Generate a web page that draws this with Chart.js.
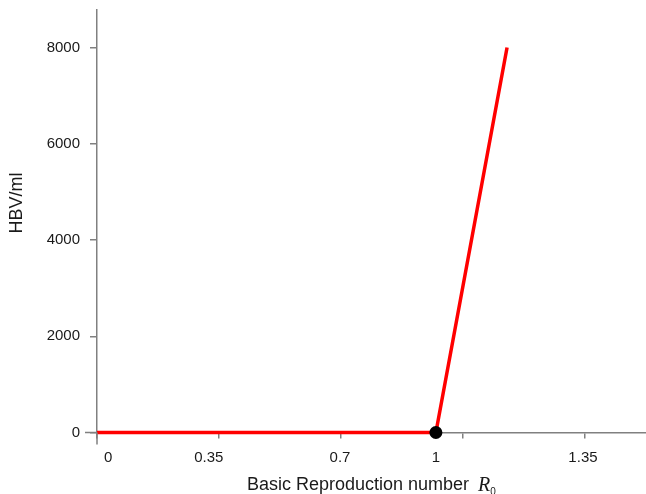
<!DOCTYPE html>
<html lang="en">

<head>
    <script src="https://cdn.jsdelivr.net/npm/chart.js"></script>
    <meta charset="UTF-8">
    <title>HBV vs R0</title>
    <style>
        body {
            margin: 0;
            padding: 0;
            background-color: #ffffff;
        }

        .chart-box {
            width: 646px;
            height: 494px;
        }
    </style>
</head>

<body>
    <div class="chart-box">
        <canvas id="hbvChart"></canvas>
    </div>

    <script>
        // data
        const r0Values = [0, 1, 1.21];
        const hbvValues = [0, 0, 8000];
        const thresholdPoint = [{ x: 1, y: 0 }];

        // tick labels as printed under the axis, and where they sit (in R0 units)
        const xTickLabels = ['0', '0.35', '0.7', '1', '1.35'];
        const xTickLabelAt = [0.033, 0.33, 0.717, 1.0, 1.434];
        const yTickValues = [0, 2000, 4000, 6000, 8000];

        const axisGray = '#808080';
        const textColor = '#1a1a1a';
        const sans = '"Liberation Sans", Arial, sans-serif';

        const linePoints = r0Values.map((x, i) => ({ x: x, y: hbvValues[i] }));

        // extra axis bits, x labels and the two titles
        const axisExtras = {
            id: 'axisExtras',
            afterDraw(chart) {
                const ctx = chart.ctx;
                const xs = chart.scales.x;
                const ys = chart.scales.y;
                const x0 = xs.getPixelForValue(0);
                const y0 = ys.getPixelForValue(0);

                ctx.save();
                ctx.strokeStyle = axisGray;
                ctx.lineWidth = 1.5;
                ctx.beginPath();
                ctx.moveTo(x0, y0);
                ctx.lineTo(x0, y0 + 12);
                ctx.moveTo(x0 - 12, y0);
                ctx.lineTo(x0, y0);
                ctx.stroke();

                ctx.fillStyle = textColor;
                ctx.font = '15px ' + sans;
                ctx.textAlign = 'center';
                ctx.textBaseline = 'middle';
                xTickLabels.forEach((lab, i) => {
                    ctx.fillText(lab, xs.getPixelForValue(xTickLabelAt[i]), 458);
                });

                // x title
                ctx.textAlign = 'left';
                ctx.textBaseline = 'alphabetic';
                ctx.font = '18px ' + sans;
                const main = 'Basic Reproduction number';
                ctx.fillText(main, 247, 490);
                let px = 247 + ctx.measureText(main).width + 9;
                ctx.font = 'italic 20px "Liberation Serif", "Times New Roman", serif';
                ctx.fillText('R', px, 491);
                px += ctx.measureText('R').width;
                ctx.font = '10px ' + sans;
                ctx.fillText('0', px, 495);

                // y title
                ctx.translate(17, 203);
                ctx.rotate(-Math.PI / 2);
                ctx.textAlign = 'center';
                ctx.textBaseline = 'middle';
                ctx.font = '18px ' + sans;
                ctx.fillText('HBV/ml', 0, 0);
                ctx.restore();
            }
        };

        const ctx = document.getElementById('hbvChart').getContext('2d');
        new Chart(ctx, {
            type: 'scatter',
            data: {
                datasets: [{
                    // threshold dot, first so it is drawn on top
                    data: thresholdPoint,
                    showLine: false,
                    pointRadius: 6.5,
                    pointBackgroundColor: '#000000',
                    pointBorderColor: '#000000',
                    pointBorderWidth: 0,
                    clip: false
                }, {
                    data: linePoints,
                    showLine: true,
                    borderColor: '#ff0000',
                    borderWidth: 3.5,
                    pointRadius: 0,
                    tension: 0,
                    clip: false
                }]
            },
            options: {
                responsive: true,
                maintainAspectRatio: false,
                animation: false,
                layout: {
                    autoPadding: false,
                    padding: { top: 10, right: 0, left: 0, bottom: 0 }
                },
                plugins: {
                    legend: { display: false },
                    tooltip: { enabled: false }
                },
                scales: {
                    x: {
                        type: 'linear',
                        min: 0,
                        max: 1.62,
                        afterFit: (scale) => {
                            scale.height = 61.5;
                            scale.paddingLeft = 0;
                            scale.paddingRight = 0;
                        },
                        border: { color: axisGray, width: 1.5 },
                        grid: {
                            drawOnChartArea: false,
                            tickLength: 6,
                            color: axisGray,
                            lineWidth: 1.5
                        },
                        ticks: {
                            display: false,
                            stepSize: 0.36,
                            includeBounds: false
                        }
                    },
                    y: {
                        type: 'linear',
                        min: 0,
                        max: 8780,
                        afterFit: (scale) => {
                            scale.width = 97;
                            scale.paddingTop = 0;
                            scale.paddingBottom = 0;
                        },
                        afterBuildTicks: (scale) => {
                            scale.ticks = yTickValues.map(v => ({ value: v }));
                        },
                        border: { color: axisGray, width: 1.5 },
                        grid: {
                            drawOnChartArea: false,
                            tickLength: 7,
                            color: axisGray,
                            lineWidth: 1.5
                        },
                        ticks: {
                            padding: 10,
                            color: textColor,
                            font: { family: sans, size: 15 },
                            callback: (v) => String(v)
                        }
                    }
                }
            },
            plugins: [axisExtras]
        });
    </script>

</body>

</html>
